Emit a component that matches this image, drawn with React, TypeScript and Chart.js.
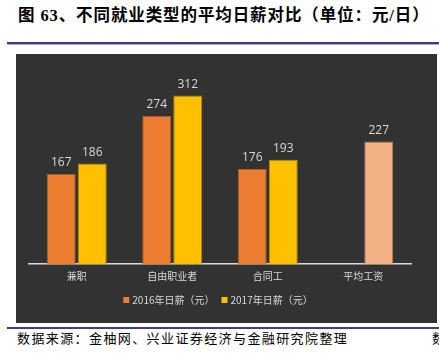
import React, { useEffect, useRef } from "react";
import { Chart, registerables } from "chart.js";

Chart.register(...registerables);

const categories = ["兼职", "自由职业者", "合同工", "平均工资"];
const series2016Label = "2016年日薪（元）";
const series2017Label = "2017年日薪（元）";
const values2016: (number | null)[] = [167, 274, 176, null];
const values2017: number[] = [186, 312, 193, 227];
const color2016 = "#ED7D31";
const color2017 = "#FFC000";
const colors2017 = [color2017, color2017, color2017, "#F4B183"];
const borders2017 = ["#B38A10", "#B38A10", "#B38A10", "#A87F60"];

const valueLabelPlugin = {
  id: "valueLabels",
  afterDatasetsDraw(chart: any) {
    const ctx = chart.ctx;
    ctx.save();
    ctx.fillStyle = "#D9D9D9";
    ctx.font = "12px 'Open Sans', 'Noto Sans', sans-serif";
    ctx.textAlign = "center";
    ctx.textBaseline = "bottom";
    chart.data.datasets.forEach((ds: any, di: number) => {
      const meta = chart.getDatasetMeta(di);
      meta.data.forEach((el: any, i: number) => {
        const v = ds.data[i];
        if (v === null || v === undefined) return;
        ctx.fillText(String(v), el.x, el.y - 5);
      });
    });
    ctx.restore();
  },
};

const legendPlugin = {
  id: "customLegend",
  afterDraw(chart: any) {
    const ctx = chart.ctx;
    const items = [
      { text: series2016Label, color: color2016 },
      { text: series2017Label, color: color2017 },
    ];
    ctx.save();
    ctx.font = "10px 'Noto Sans CJK SC', sans-serif";
    ctx.textBaseline = "middle";
    ctx.textAlign = "left";
    const box = 6;
    const boxGap = 3;
    const itemGap = 7;
    const widths = items.map((it) => box + boxGap + ctx.measureText(it.text).width);
    const total = widths.reduce((a, b) => a + b, 0) + itemGap * (items.length - 1);
    const centerX = (chart.chartArea.left + chart.chartArea.right) / 2 - 2;
    const cy = chart.height - 23;
    let x = centerX - total / 2;
    items.forEach((it, i) => {
      ctx.fillStyle = it.color;
      ctx.fillRect(x, cy - box / 2, box, box);
      ctx.fillStyle = "#D9D9D9";
      ctx.fillText(it.text, x + box + boxGap, cy + 0.5);
      x += widths[i] + itemGap;
    });
    ctx.restore();
  },
};

export default function App() {
  const ref = useRef<HTMLCanvasElement>(null);
  useEffect(() => {
    const chart = new Chart(ref.current!, {
      type: "bar",
      data: {
        labels: categories,
        datasets: [
          {
            label: series2016Label,
            data: values2016,
            backgroundColor: color2016,
            borderColor: "#A85A28",
            borderWidth: 1,
            barPercentage: 0.935,
            categoryPercentage: 0.65,
          },
          {
            label: series2017Label,
            data: values2017,
            backgroundColor: colors2017,
            borderColor: borders2017,
            borderWidth: 1,
            barPercentage: 0.935,
            categoryPercentage: 0.65,
          },
        ],
      },
      options: {
        animation: false,
        responsive: false,
        maintainAspectRatio: false,
        layout: { padding: { left: 13, right: 26, top: 21, bottom: 35 } },
        plugins: {
          tooltip: { enabled: false },
          legend: { display: false },
        },
        scales: {
          x: {
            grid: { display: false, drawTicks: false },
            border: { display: true, color: "#D9D9D9", width: 1.5 },
            ticks: {
              color: "#D9D9D9",
              padding: 6,
              font: { size: 10, family: "'Noto Sans CJK SC', sans-serif" },
            },
          },
          y: {
            display: false,
            min: 0,
            max: 350,
          },
        },
      },
      plugins: [valueLabelPlugin, legendPlugin],
    });
    return () => chart.destroy();
  }, []);

  return (
    <div style={{ position: "absolute", left: 0, top: 0, width: 439, height: 354, background: "#fff", overflow: "hidden" }}>
      <div
        style={{
          position: "absolute",
          left: 18,
          top: 5,
          fontFamily: "'Liberation Serif', 'Noto Sans CJK SC', serif",
          fontWeight: "bold",
          fontSize: 16.5,
          letterSpacing: 0.9,
          color: "#000",
          whiteSpace: "nowrap",
          lineHeight: "22px",
        }}
      >
        图 63、不同就业类型的平均日薪对比（单位：元/日）
      </div>
      <div style={{ position: "absolute", left: 7, top: 42, width: 432, height: 2, background: "#3E3E7C" }} />
      <div style={{ position: "absolute", left: 7, top: 44, width: 432, height: 1, background: "#A9A9CC" }} />
      <div style={{ position: "absolute", left: 16, top: 54, width: 421, height: 269, background: "#323232" }}>
        <canvas ref={ref} width={421} height={269} style={{ display: "block", width: 421, height: 269 }} />
      </div>
      <div style={{ position: "absolute", left: 7, top: 327, width: 432, height: 1.5, background: "#3E3E7C" }} />
      <div
        style={{
          position: "absolute",
          left: 17,
          top: 331,
          fontFamily: "'Liberation Serif', 'Noto Sans CJK SC', serif",
          fontSize: 13,
          letterSpacing: 1.4,
          color: "#000",
          whiteSpace: "nowrap",
          lineHeight: "16px",
        }}
      >
        数据来源：金柚网、兴业证券经济与金融研究院整理
      </div>
      <div
        style={{
          position: "absolute",
          left: 432,
          top: 331,
          fontFamily: "'Liberation Serif', 'Noto Sans CJK SC', serif",
          fontSize: 13,
          color: "#000",
          whiteSpace: "nowrap",
          lineHeight: "16px",
        }}
      >
        数
      </div>
    </div>
  );
}
